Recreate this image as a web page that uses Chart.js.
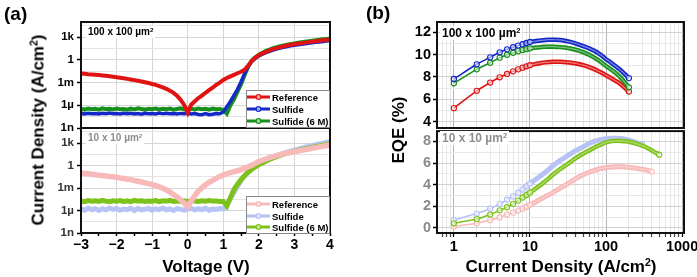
<!DOCTYPE html>
<html>
<head>
<meta charset="utf-8">
<script src="https://cdn.jsdelivr.net/npm/chart.js@4.4.1/dist/chart.umd.min.js"></script>
<style>
body{margin:0;background:#fff;width:697px;height:277px;position:relative;overflow:hidden;font-family:"Liberation Sans",Arial,sans-serif;font-weight:bold;}
canvas{position:absolute;}
.t{position:absolute;white-space:nowrap;font-weight:bold;line-height:1;}
.t sup{font-size:0.62em;vertical-align:0.55em;line-height:0;}
.lab{position:absolute;white-space:nowrap;background:#fff;padding:1px 2px;line-height:1;}
.lab sup{font-size:0.62em;vertical-align:0.55em;line-height:0;}
.leg{position:absolute;background:#fff;border:1px solid #8a8a8a;box-sizing:border-box;}
.row{position:absolute;left:0;height:10px;display:flex;align-items:center;font-size:9.5px;}
.row svg{margin-right:2px;}
</style>
</head>
<body>
<canvas id="a1" width="345" height="142" style="left:0;top:0"></canvas>
<canvas id="a2" width="345" height="151" style="left:0;top:126px"></canvas>
<canvas id="b1" width="347" height="142" style="left:350px;top:0"></canvas>
<canvas id="b2" width="347" height="151" style="left:350px;top:126px"></canvas>

<div class="t" style="left:4px;top:4px;font-size:19px">(a)</div>
<div class="t" style="left:366px;top:3px;font-size:19px">(b)</div>
<div class="t" style="left:38px;top:130px;font-size:17px;transform:translate(-50%,-50%) rotate(-90deg)">Current Density (A/cm<sup>2</sup>)</div>
<div class="t" style="left:206px;top:266px;font-size:17px;transform:translate(-50%,-50%)">Voltage (V)</div>
<div class="t" style="left:398px;top:130px;font-size:17px;transform:translate(-50%,-50%) rotate(-90deg)">EQE (%)</div>
<div class="t" style="left:561px;top:266px;font-size:17px;transform:translate(-50%,-50%)">Current Density (A/cm<sup>2</sup>)</div>

<div class="lab" style="left:86px;top:26px;font-size:10px;color:#000">100 x 100 µm<sup>2</sup></div>
<div class="lab" style="left:86px;top:132px;font-size:10px;color:#8c8c8c">10 x 10 µm<sup>2</sup></div>
<div class="lab" style="left:440px;top:26px;font-size:12px;color:#000">100 x 100 µm<sup>2</sup></div>
<div class="lab" style="left:440px;top:131px;font-size:12px;color:#8c8c8c">10 x 10 µm<sup>2</sup></div>

<div class="leg" id="legTop" style="left:246px;top:90px;width:84px;height:38px"></div>
<div class="leg" id="legLow" style="left:246px;top:196px;width:84px;height:38px"></div>

<script>
const FONT = '"Liberation Sans", Arial, sans-serif';

// ---- (a) J-V data ----
const volts = [-3.0,-2.9,-2.8,-2.7,-2.6,-2.5,-2.4,-2.3,-2.2,-2.1,-2.0,-1.9,-1.8,-1.7,-1.6,-1.5,-1.4,-1.3,-1.2,-1.1,
  -1.0,-0.9,-0.8,-0.7,-0.6,-0.5,-0.4,-0.3,-0.2,-0.1,0.0,0.1,0.2,0.3,0.4,0.5,0.6,0.7,0.8,0.9,
  1.0,1.1,1.2,1.3,1.4,1.5,1.6,1.7,1.8,1.9,2.0,2.1,2.2,2.3,2.4,2.5,2.6,2.7,2.8,2.9,
  3.0,3.1,3.2,3.3,3.4,3.5,3.6,3.7,3.8,3.9,4.0];

const refBig = [1.6e-2,1.45e-2,1.3e-2,1.2e-2,1.1e-2,9.8e-3,8.7e-3,7.8e-3,6.8e-3,5.9e-3,
  5.0e-3,4.4e-3,3.7e-3,3.1e-3,2.6e-3,2.1e-3,1.7e-3,1.4e-3,1.1e-3,8.7e-4,
  6.6e-4,4.9e-4,3.5e-4,2.3e-4,1.5e-4,8.5e-5,4.3e-5,1.8e-5,5.6e-6,1.1e-6,
  1.0e-7,1.3e-6,3.5e-6,8.9e-6,1.9e-5,4.5e-5,1.0e-4,2.1e-4,5.0e-4,1.0e-3,
  2.2e-3,4.0e-3,6.6e-3,1.05e-2,1.7e-2,2.7e-2,5.0e-2,1.8e-1,7.1e-1,2.0,
  4.0,7.1,11,18,26,36,48,63,79,98,
  117,138,162,190,219,251,288,331,380,437,501];
const sulfBig = [8.5e-8,7.2e-8,9.0e-8,7.8e-8,8.2e-8,6.9e-8,8.8e-8,7.5e-8,9.3e-8,7.9e-8,
  8.1e-8,7.0e-8,8.6e-8,7.7e-8,9.1e-8,7.3e-8,8.4e-8,6.8e-8,8.9e-8,7.6e-8,
  8.3e-8,7.1e-8,9.2e-8,7.4e-8,8.7e-8,7.8e-8,8.0e-8,7.2e-8,8.5e-8,7.7e-8,
  8.9e-8,7.3e-8,8.2e-8,6.2e-8,5.6e-8,7.9e-8,5.8e-8,6.5e-8,8.4e-8,7.5e-8,
  1.3e-7,6.3e-7,3.2e-6,2.0e-5,1.3e-4,1.3e-3,1.6e-2,1.3e-1,6.3e-1,1.6,
  3.2,5.6,8.9,13.5,19.5,27,35,46,58,71,
  85,100,117,135,155,178,204,234,269,309,355];
const sulf6Big = [3.3e-7,2.7e-7,3.8e-7,3.0e-7,3.5e-7,2.6e-7,3.9e-7,3.1e-7,3.4e-7,2.8e-7,
  3.7e-7,3.0e-7,3.3e-7,2.6e-7,3.6e-7,2.9e-7,4.0e-7,3.2e-7,2.7e-7,3.5e-7,
  3.1e-7,3.8e-7,2.8e-7,3.4e-7,3.0e-7,3.6e-7,2.6e-7,3.3e-7,3.9e-7,2.9e-7,
  3.2e-7,3.5e-7,2.8e-7,3.7e-7,3.0e-7,3.4e-7,2.7e-7,3.6e-7,3.1e-7,3.3e-7,
  2.5e-7,8.0e-8,1.0e-6,6.3e-6,6.3e-5,6.3e-4,1.0e-2,1.3e-1,7.9e-1,2.2,
  4.8,8.9,15,23,34,47,63,81,102,126,
  151,182,214,251,295,339,389,447,513,589,676];

const refSmall = [1.0e-1,8.9e-2,7.9e-2,6.9e-2,6.0e-2,5.2e-2,4.7e-2,4.1e-2,3.5e-2,3.1e-2,
  2.7e-2,2.2e-2,1.9e-2,1.5e-2,1.3e-2,1.0e-2,7.9e-3,6.3e-3,4.9e-3,3.8e-3,
  2.9e-3,2.1e-3,1.4e-3,9.5e-4,5.5e-4,2.8e-4,1.4e-4,6.3e-5,2.5e-5,1.0e-5,
  3.2e-6,1.8e-5,1.0e-4,4.0e-4,1.1e-3,2.8e-3,5.6e-3,1.05e-2,1.9e-2,3.5e-2,
  5.6e-2,7.9e-2,1.1e-1,1.5e-1,2.0e-1,2.8e-1,4.2e-1,6.6e-1,1.1,1.9,
  3.4,5.0,7.4,11,15,21,28,35,46,58,
  71,87,107,132,162,200,245,302,372,457,550];
const sulfSmall = [1.6e-6,1.1e-6,2.0e-6,1.3e-6,1.8e-6,1.0e-6,1.7e-6,1.2e-6,2.1e-6,1.4e-6,
  1.9e-6,1.1e-6,1.6e-6,1.3e-6,2.0e-6,1.0e-6,1.8e-6,1.2e-6,1.5e-6,1.9e-6,
  1.1e-6,1.7e-6,1.3e-6,2.1e-6,1.2e-6,1.6e-6,1.0e-6,1.8e-6,1.4e-6,1.1e-6,
  1.5e-6,1.9e-6,1.2e-6,1.7e-6,1.3e-6,2.0e-6,1.1e-6,1.6e-6,1.4e-6,1.8e-6,
  1.6e-6,5.0e-6,4.0e-5,2.5e-4,1.6e-3,1.0e-2,4.5e-2,1.4e-1,3.5e-1,7.9e-1,
  1.6,2.8,5.0,8.3,13,20,30,43,60,83,
  115,155,204,269,347,447,575,724,912,1150,1450];
const sulf6Small = [1.9e-5,1.5e-5,2.1e-5,1.7e-5,2.0e-5,1.6e-5,2.2e-5,1.8e-5,1.5e-5,2.0e-5,
  1.7e-5,2.1e-5,1.6e-5,1.9e-5,1.5e-5,2.2e-5,1.8e-5,2.0e-5,1.6e-5,1.9e-5,
  1.7e-5,2.1e-5,1.5e-5,2.0e-5,1.8e-5,2.2e-5,1.6e-5,1.9e-5,1.7e-5,2.0e-5,
  1.5e-5,2.1e-5,1.8e-5,1.6e-5,2.0e-5,1.7e-5,2.2e-5,1.8e-5,1.9e-5,1.6e-5,
  1.6e-5,4.0e-6,5.0e-5,6.3e-4,3.2e-3,1.3e-2,4.5e-2,1.3e-1,3.2e-1,6.6e-1,
  1.3,2.2,3.8,6.3,10,15,22,32,44,59,
  78,100,129,166,209,263,331,417,525,661,832];

const voltTicks = [-3, -2, -1, 0, 1, 2, 3, 4];
const voltTickLabels = ['\u22123', '\u22122', '\u22121', '0', '1', '2', '3', '4'];
const voltHalf = [-2.5, -1.5, -0.5, 0.5, 1.5, 2.5, 3.5];
const currentTicks = [1e-9, 1e-6, 1e-3, 1, 1e3];
const currentTickLabels = ['1n', '1\u00b5', '1m', '1', '1k'];
const currentMid = [3.16e-8, 3.16e-5, 3.16e-2, 31.6, 3.16e4];

// ---- (b) EQE data ----
const jBig = [1,2,3,4,5,6,7,8,9,10,12,14,16,18,20,25,30,35,40,45,50,60,70,80,90,100,110,120,130,140,150,160,170,180,190,200];
const eqeRefBig = [5.22,6.76,7.5,7.97,8.27,8.5,8.68,8.83,8.95,9.05,9.17,9.25,9.3,9.33,9.35,9.35,9.32,9.27,9.2,9.13,9.05,
  8.88,8.7,8.5,8.33,8.15,7.99,7.84,7.7,7.57,7.44,7.29,7.13,6.98,6.84,6.7];
const eqeSulfBig = [7.82,9.13,9.75,10.2,10.46,10.65,10.8,10.92,11.03,11.12,11.2,11.26,11.3,11.32,11.32,11.3,11.2,11.1,10.98,10.87,10.75,
  10.55,10.33,10.1,9.85,9.58,9.4,9.2,9.02,8.85,8.7,8.53,8.37,8.2,8.05,7.9];
const eqeSulf6Big = [7.44,8.68,9.27,9.72,9.98,10.16,10.3,10.4,10.48,10.55,10.62,10.66,10.69,10.7,10.7,10.66,10.6,10.52,10.43,10.33,10.22,
  9.98,9.72,9.48,9.22,8.98,8.78,8.6,8.42,8.25,8.05,7.85,7.65,7.45,7.27,7.08];

const jSmall = [1,2,3,4,5,6,7,8,9,10,12,14,16,18,20,25,30,35,40,45,50,60,70,80,90,100,120,140,160,180,200,250,300,350,400,450,500];
const eqeRefSmall = [0.12,0.42,0.72,0.96,1.23,1.41,1.6,1.77,1.95,2.13,2.42,2.68,2.9,3.08,3.26,3.68,4.01,4.3,4.55,4.75,4.92,
  5.15,5.32,5.45,5.52,5.57,5.63,5.66,5.66,5.64,5.6,5.52,5.42,5.32,5.21];
const eqeSulfSmall = [0.72,1.32,1.77,2.22,2.6,2.9,3.25,3.56,3.85,4.1,4.5,4.85,5.15,5.45,5.75,6.25,6.6,6.9,7.15,7.35,7.5,
  7.8,8.0,8.12,8.2,8.25,8.3,8.3,8.27,8.2,8.12,7.92,7.7];
const eqeSulf6Small = [0.42,0.81,1.23,1.62,1.91,2.22,2.52,2.81,3.05,3.26,3.65,4.0,4.33,4.63,4.92,5.45,5.82,6.15,6.45,6.68,6.86,
  7.17,7.42,7.62,7.78,7.91,8.03,8.06,8.05,8.02,7.97,7.8,7.61,7.4,7.16,6.96,6.77];

const jTicks = [1, 10, 100, 1000];
const jTickLabels = ['1', '10', '100', '1000'];
const jMinor = [0.7,0.8,0.9,2,3,4,5,6,7,8,9,20,30,40,50,60,70,80,90,200,300,400,500,600,700,800,900];
const eqeBigTicks = [4, 6, 8, 10, 12];
const eqeSmallTicks = [0, 2, 4, 6, 8];
const eqeBigMinor = [5, 7, 9, 11];
const eqeSmallMinor = [1, 3, 5, 7];

const seriesNames = ['Reference', 'Sulfide', 'Sulfide (6 M)'];
const darkColors = ['#e01212', '#1428c8', '#17901b'];
const paleColors = ['#f8b9b9', '#b7c2f5', '#7dc21b'];

// ---- helpers ----
function pairs(xs, ys) { return ys.map((y, i) => ({x: xs[i], y})); }
function fixW(w) { return s => { s.width = w; s.paddingTop = 0; s.paddingBottom = 0; }; }
function fixH(h) { return s => { s.height = h; s.paddingLeft = 0; s.paddingRight = 0; }; }

const framePlugin = {
  id: 'frame',
  afterDraw(chart) {
    const {ctx, chartArea: a} = chart;
    ctx.save();
    ctx.strokeStyle = '#111';
    ctx.lineWidth = 2;
    ctx.strokeRect(a.left, a.top, a.right - a.left, a.bottom - a.top);
    ctx.restore();
  }
};

function voltAxis(showLabels, h) {
  return {
    type: 'linear', min: -3, max: 4,
    afterBuildTicks: s => { s.ticks = voltTicks.concat(voltHalf).map(v => ({value: v})); },
    ticks: {
      display: showLabels, autoSkip: false, maxRotation: 0, padding: 1, color: '#000',
      font: {family: FONT, size: 14, weight: 'bold'},
      callback: v => { const i = voltTicks.indexOf(v); return i < 0 ? '' : voltTickLabels[i]; }
    },
    grid: {
      color: c => voltTicks.includes(c.tick.value) ? '#d6d6d6' : 'rgba(0,0,0,0)',
      drawTicks: showLabels, tickLength: 3, tickColor: '#000', tickWidth: 1.5
    },
    border: {display: false},
    afterFit: fixH(h)
  };
}

function currentAxis(color, w) {
  return {
    type: 'logarithmic', min: 1e-9, max: 1e5,
    afterBuildTicks: s => { s.ticks = currentTicks.concat(currentMid).map(v => ({value: v})); },
    ticks: {
      autoSkip: false, padding: 3, color,
      font: {family: FONT, size: 11.5, weight: 'bold'},
      callback: v => { const i = currentTicks.indexOf(v); return i < 0 ? '' : currentTickLabels[i]; }
    },
    grid: {
      color: c => currentTicks.includes(c.tick.value) ? '#d6d6d6' : '#e4e4e4',
      tickLength: 4, tickColor: c => currentTicks.includes(c.tick.value) ? '#000' : 'rgba(0,0,0,0)', tickWidth: 1.5
    },
    border: {display: false},
    afterFit: fixW(w)
  };
}

function jAxis(showLabels, h) {
  return {
    type: 'logarithmic', min: 0.62, max: 1060,
    afterBuildTicks: s => { s.ticks = jTicks.concat(jMinor).map(v => ({value: v})); },
    ticks: {
      display: showLabels, autoSkip: false, maxRotation: 0, padding: 1, color: '#000',
      font: {family: FONT, size: 14.5, weight: 'bold'},
      callback: v => { const i = jTicks.indexOf(v); return i < 0 ? '' : jTickLabels[i]; }
    },
    grid: {
      color: c => jTicks.includes(c.tick.value) ? '#b4b4b4' : '#e6e6e6',
      drawTicks: showLabels, tickLength: 4, tickColor: c => jTicks.includes(c.tick.value) ? '#000' : '#444', tickWidth: 1.2
    },
    border: {display: false},
    afterFit: fixH(h)
  };
}

function eqeAxis(min, max, major, minor, color, w) {
  return {
    type: 'linear', min, max,
    afterBuildTicks: s => { s.ticks = major.concat(minor).map(v => ({value: v})); },
    ticks: {
      autoSkip: false, padding: 2, color,
      font: {family: FONT, size: 14.5, weight: 'bold'},
      callback: v => major.includes(v) ? String(v) : ''
    },
    grid: {
      color: c => major.includes(c.tick.value) ? '#d2d2d2' : '#e8e8e8',
      tickLength: 4, tickColor: c => major.includes(c.tick.value) ? '#000' : 'rgba(0,0,0,0)', tickWidth: 1.5
    },
    border: {display: false},
    afterFit: fixW(w)
  };
}

function jvSet(idx, ys, colors, width) {
  return {
    label: seriesNames[idx], data: pairs(volts, ys),
    borderColor: colors[idx], borderWidth: width, pointRadius: 0,
    tension: 0, fill: false
  };
}

function eqeSet(idx, xs, ys, colors, thick) {
  const last = ys.length - 1;
  return {
    label: seriesNames[idx], data: pairs(xs, ys),
    borderColor: colors[idx], borderWidth: 1.6, tension: 0.3, fill: false,
    segment: {borderWidth: c => c.p0.parsed.x >= 8 ? thick : 1.6},
    pointRadius: c => (c.parsed && (c.parsed.x <= 10 || c.dataIndex === last)) ? 2.6 : 0,
    pointBorderWidth: 1.1,
    pointBorderColor: colors[idx],
    pointBackgroundColor: 'rgba(255,255,255,0.55)'
  };
}

// pale centre stripe of the dense marker band (same data as the series)
function eqeCore(idx, xs, ys, alpha) {
  const col = 'rgba(255,255,255,' + alpha + ')';
  return {
    label: seriesNames[idx] + ' core', data: pairs(xs, ys),
    borderColor: col, borderWidth: 1.2, tension: 0.3, fill: false, pointRadius: 0,
    segment: {borderColor: c => c.p0.parsed.x >= 10 ? col : 'rgba(0,0,0,0)'}
  };
}

function baseOptions(pad, scales) {
  return {
    responsive: false, animation: false, devicePixelRatio: 1, events: [],
    layout: {padding: pad},
    plugins: {legend: {display: false}, tooltip: {enabled: false}},
    scales
  };
}

new Chart(document.getElementById('a1'), {
  type: 'line',
  data: {datasets: [jvSet(0, refBig, darkColors, 4), jvSet(1, sulfBig, darkColors, 3.5), jvSet(2, sulf6Big, darkColors, 4)]},
  options: baseOptions({top: 22, right: 15, left: 0, bottom: 0},
    {x: voltAxis(false, 14), y: currentAxis('#000', 81)}),
  plugins: [framePlugin]
});

new Chart(document.getElementById('a2'), {
  type: 'line',
  data: {datasets: [jvSet(0, refSmall, paleColors, 5.5), jvSet(2, sulf6Small, paleColors, 5), jvSet(1, sulfSmall, paleColors, 5)]},
  options: baseOptions({top: 2, right: 15, left: 0, bottom: 0},
    {x: voltAxis(true, 44), y: currentAxis('#333', 81)}),
  plugins: [framePlugin]
});

new Chart(document.getElementById('b1'), {
  type: 'line',
  data: {datasets: [
    eqeCore(1, jBig, eqeSulfBig, 0.45), eqeSet(1, jBig, eqeSulfBig, darkColors, 4.5),
    eqeCore(2, jBig, eqeSulf6Big, 0.45), eqeSet(2, jBig, eqeSulf6Big, darkColors, 4.5),
    eqeCore(0, jBig, eqeRefBig, 0.45), eqeSet(0, jBig, eqeRefBig, darkColors, 4.5)]},
  options: baseOptions({top: 22, right: 13, left: 0, bottom: 0},
    {x: jAxis(false, 14), y: eqeAxis(3.45, 12.9, eqeBigTicks, eqeBigMinor, '#000', 87)}),
  plugins: [framePlugin]
});

new Chart(document.getElementById('b2'), {
  type: 'line',
  data: {datasets: [
    eqeCore(2, jSmall, eqeSulf6Small, 0.4), eqeSet(2, jSmall, eqeSulf6Small, paleColors, 4.5),
    eqeSet(1, jSmall, eqeSulfSmall, paleColors, 5),
    eqeCore(0, jSmall, eqeRefSmall, 0.35), eqeSet(0, jSmall, eqeRefSmall, paleColors, 5)]},
  options: baseOptions({top: 2, right: 13, left: 0, bottom: 0},
    {x: jAxis(true, 44), y: eqeAxis(-0.48, 8.96, eqeSmallTicks, eqeSmallMinor, '#8a8a8a', 87)}),
  plugins: [framePlugin]
});

// legends (HTML text, marker drawn as small svg)
function buildLegend(id, colors, rowTops) {
  const box = document.getElementById(id);
  seriesNames.forEach((name, i) => {
    const row = document.createElement('div');
    row.className = 'row';
    row.style.top = rowTops[i] + 'px';
    row.innerHTML = '<svg width="23" height="8"><line x1="0" y1="4" x2="23" y2="4" stroke="' + colors[i] +
      '" stroke-width="3"/><circle cx="11.5" cy="4" r="2.4" fill="#fff" fill-opacity="0.6" stroke="' + colors[i] +
      '" stroke-width="1.2"/></svg><span>' + name + '</span>';
    box.appendChild(row);
  });
}
buildLegend('legTop', darkColors, [1, 13, 25]);
buildLegend('legLow', paleColors, [2, 14, 25]);
</script>
</body>
</html>
